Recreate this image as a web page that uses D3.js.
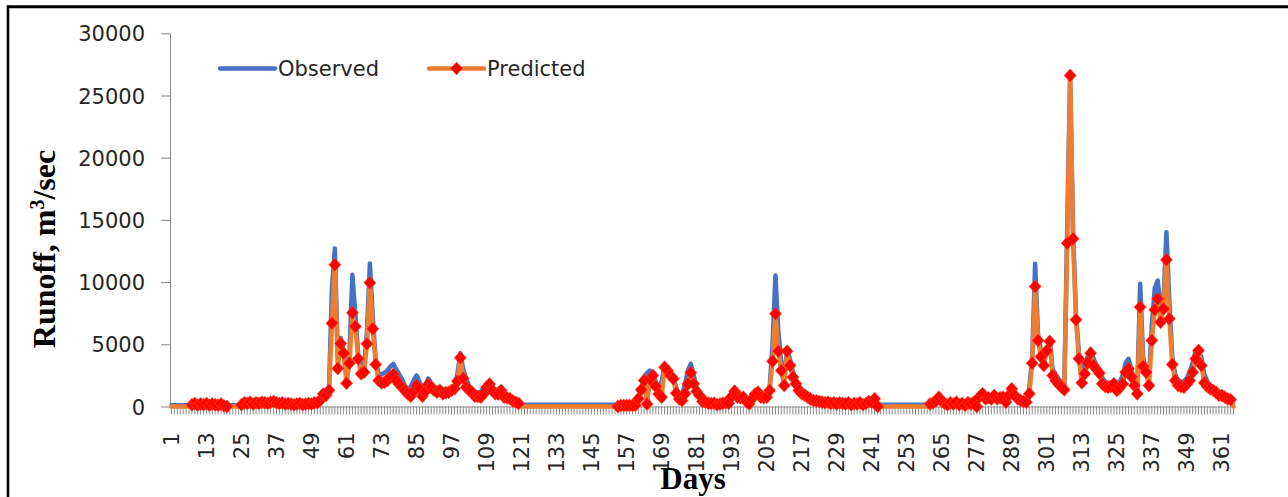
<!DOCTYPE html>
<html>
<head>
<meta charset="utf-8" />
<script src="https://d3js.org/d3.v7.min.js"></script>
<style>
  body { margin: 0; background: #fff; }
  .tick text { font-family: "DejaVu Sans", sans-serif; font-size: 21px; fill: #262626; }
</style>
</head>
<body>
<div id="chart"></div>
<script>

// days 1..365
var days = d3.range(1, 366);

// observed runoff, m3/sec, one value per day
var observed = [
  100,100,100,100,100,100,100,200,250,150,
  250,200,250,150,250,200,150,250,100,100,
  100,100,100,100,200,350,300,400,250,350,
  300,400,350,300,400,450,350,300,350,250,
  300,250,200,250,300,200,250,300,250,350,
  350,600,1100,1100,1600,9500,12700,4000,5500,4500,
  2600,4200,10600,7500,4200,3000,3100,6000,11500,7200,
  3700,2600,2600,2700,2900,3200,3430,3000,2600,2200,
  1700,1400,1600,2100,2490,2000,1500,1700,2250,1900,
  1600,1500,1500,1400,1400,1400,1500,1700,2600,4290,
  3000,2200,1700,1400,1200,1100,1200,1500,1800,2000,
  1600,1300,1400,1550,1100,900,800,600,400,250,
  150,150,150,150,150,150,150,150,150,150,
  150,150,150,150,150,150,150,150,150,150,
  150,150,150,150,150,150,150,150,150,150,
  150,150,150,150,150,150,150,150,150,150,
  700,1500,2400,2700,2890,2700,2000,1500,2000,3200,
  3100,2700,2300,1500,900,900,1800,2900,3430,2500,
  1500,1000,600,450,350,350,350,300,300,350,
  400,400,1000,1500,1000,800,800,500,400,700,
  1000,1200,1000,900,900,1500,5000,10530,6000,3500,
  2500,4500,3800,2800,2200,1700,1400,1200,1000,800,
  700,600,550,500,500,500,450,450,400,400,
  400,350,400,300,350,300,350,300,350,500,
  400,600,200,150,150,150,150,150,150,150,
  150,150,150,150,150,150,150,150,150,150,
  250,350,500,800,500,350,250,400,300,450,
  250,350,200,400,300,450,200,900,1200,900,
  900,800,1000,800,900,900,600,1100,1600,1100,
  800,700,600,600,1500,4000,11470,5800,4500,3600,
  4500,5500,3000,2600,2200,2000,1700,14500,26600,14000,
  7500,4300,2800,3200,4000,4600,3900,3300,2900,2300,
  2000,1900,1900,2100,1900,2000,2500,3500,3830,3000,
  2000,1500,9860,4000,3000,2300,6500,9500,10130,8000,
  8500,14010,8500,4000,2600,2100,2000,2000,2300,2800,
  3500,4500,4700,3900,2600,2000,1700,1500,1300,1100,
  1000,900,800,650,600
];

// predicted runoff, null = no prediction that day
var predicted = [
  null,null,null,null,null,null,null,150,250,100,
  200,150,250,100,200,150,100,200,50,0,
  null,null,null,null,150,300,250,350,200,300,
  250,350,300,250,350,400,300,250,300,200,
  250,200,150,200,250,150,200,250,200,300,
  300,500,1000,900,1300,6700,11400,3050,5060,4290,
  1870,3480,7530,6430,3830,2630,2760,5040,9950,6250,
  3380,2090,1900,1950,2090,2400,2570,2090,1800,1550,
  1290,1000,830,1200,1690,1420,830,1200,1770,1550,
  1300,1150,1290,1020,1100,1150,1300,1420,2030,3910,
  2280,1550,1300,1150,830,800,750,1020,1550,1800,
  1290,1020,1000,1290,750,700,620,450,350,250,
  null,null,null,null,null,null,null,null,null,null,
  null,null,null,null,null,null,null,null,null,null,
  null,null,null,null,null,null,null,null,null,null,
  null,null,null,0,80,80,80,80,80,100,
  620,1340,2090,200,2200,2490,1610,1000,750,3160,
  2890,2500,2230,1070,600,480,1020,1800,2710,1820,
  1200,880,400,350,270,250,270,150,200,270,
  300,270,800,1230,750,700,750,400,210,620,
  1000,1150,750,700,750,1290,3640,7450,4450,2890,
  1690,4450,3300,2360,1820,1290,1020,900,750,600,
  480,450,400,350,300,350,250,300,200,300,
  250,200,300,150,250,200,300,150,250,400,
  350,620,0,null,null,null,null,null,null,null,
  null,null,null,null,null,null,null,null,null,null,
  210,300,450,750,400,250,150,300,200,350,
  150,250,100,300,200,350,0,800,1020,620,
  700,600,880,620,700,750,350,900,1420,900,
  620,480,400,350,1020,3480,9650,5310,4000,3300,
  4500,5230,2490,2090,1800,1550,1340,13130,26610,13480,
  6970,3830,1900,2630,3500,4290,3300,3000,2680,1820,
  1600,1550,1600,1820,1290,1500,1820,2760,3030,2400,
  1690,1020,7990,3220,2760,1690,5310,7770,8660,6780,
  7850,11790,7050,3380,2090,1690,1600,1550,1800,2090,
  2760,3830,4500,3300,1900,1600,1420,1300,1150,900,
  880,750,600,550,null
];

var yTicks = [0, 5000, 10000, 15000, 20000, 25000, 30000];
var seriesNames = ["Observed", "Predicted"];
var seriesColors = ["#4472C4", "#ED7D31"];
var markerColor = "#FF0000";

var W = 1288, H = 497;
var plot = {left: 170, right: 1235, top: 33.3, bottom: 406.5};

var svg = d3.select("#chart").append("svg")
    .attr("width", W)
    .attr("height", H);

// frame lines (top and left)
svg.append("line")
    .attr("x1", 7).attr("x2", W).attr("y1", 6.8).attr("y2", 6.8)
    .attr("stroke", "#000").attr("stroke-width", 3);
svg.append("line")
    .attr("x1", 8).attr("x2", 8).attr("y1", 5.5).attr("y2", H)
    .attr("stroke", "#000").attr("stroke-width", 2.6);

// scales
var x = d3.scaleBand()
    .domain(days)
    .range([plot.left, plot.right])
    .padding(0);
var cx = function(d) { return x(d) + x.bandwidth() / 2; };

var y = d3.scaleLinear()
    .domain([0, 30000])
    .range([plot.bottom, plot.top]);

// y axis
var yAxis = svg.append("g")
    .attr("transform", "translate(" + plot.left + ",0)")
    .call(d3.axisLeft(y).tickValues(yTicks).tickSize(9).tickSizeOuter(0).tickPadding(16)
        .tickFormat(d3.format("d")));
yAxis.selectAll("path, line").attr("stroke", "#868686");
yAxis.selectAll("text").attr("dy", "0.36em");

// x axis, a tick per day, a label every 12 days
var xAxis = svg.append("g")
    .attr("transform", "translate(0," + plot.bottom + ")")
    .call(d3.axisBottom(x).tickSize(8).tickSizeOuter(0)
        .tickFormat(function(d) { return (d - 1) % 12 === 0 ? d : ""; }));
xAxis.selectAll("path, line").attr("stroke", "#8c8c8c");
xAxis.selectAll("text")
    .attr("transform", "rotate(-90)")
    .attr("text-anchor", "end")
    .attr("x", -26)
    .attr("y", 0)
    .attr("dy", "0.36em");

// lines
var obsLine = d3.line()
    .x(function(d, i) { return cx(days[i]); })
    .y(function(d) { return y(d); });
var predLine = d3.line()
    .x(function(d, i) { return cx(days[i]); })
    .y(function(d) { return y(d == null ? 0 : d); });

svg.append("path")
    .datum(observed)
    .attr("d", obsLine)
    .attr("fill", "none")
    .attr("stroke", seriesColors[0])
    .attr("stroke-width", 4.5)
    .attr("stroke-linejoin", "round")
    .attr("stroke-linecap", "round");

svg.append("path")
    .datum(predicted)
    .attr("d", predLine)
    .attr("fill", "none")
    .attr("stroke", seriesColors[1])
    .attr("stroke-width", 4.5)
    .attr("stroke-linejoin", "round")
    .attr("stroke-linecap", "round");

// diamond markers on predicted
var diamond = "M0,-6.5L6,0L0,6.5L-6,0Z";
svg.append("g")
    .selectAll("path")
    .data(days.filter(function(d) { return predicted[d - 1] != null; }))
    .enter()
    .append("path")
    .attr("d", diamond)
    .attr("transform", function(d) { return "translate(" + cx(d) + "," + y(predicted[d - 1]) + ")"; })
    .attr("fill", markerColor)
    .attr("stroke", "#FF4A1A")
    .attr("stroke-width", 0.6);

// legend
var legend = svg.append("g").attr("font-family", "DejaVu Sans, sans-serif").attr("font-size", 21);
var legendX = [220, 429];
seriesNames.forEach(function(name, i) {
  var g = legend.append("g").attr("transform", "translate(" + legendX[i] + ",68.5)");
  g.append("line")
      .attr("x1", 0).attr("x2", 55)
      .attr("stroke", seriesColors[i])
      .attr("stroke-width", 4.5)
      .attr("stroke-linecap", "round");
  if (i === 1) {
    g.append("path").attr("d", diamond).attr("transform", "translate(27.5,0)").attr("fill", markerColor);
  }
  g.append("text")
      .attr("x", 58)
      .attr("dy", "0.36em")
      .attr("fill", "#262626")
      .text(name);
});

// axis titles
svg.append("text")
    .attr("transform", "translate(55,249) rotate(-90)")
    .attr("text-anchor", "middle")
    .attr("font-family", "Liberation Serif, Times New Roman, serif")
    .attr("font-weight", "bold")
    .attr("font-size", 32)
    .attr("fill", "#000")
    .html('Runoff, m<tspan baseline-shift="super" font-size="20">3</tspan>/sec');

svg.append("text")
    .attr("x", 693)
    .attr("y", 489)
    .attr("text-anchor", "middle")
    .attr("font-family", "Liberation Serif, Times New Roman, serif")
    .attr("font-weight", "bold")
    .attr("font-size", 31)
    .attr("fill", "#000")
    .text("Days");

</script>
</body>
</html>
